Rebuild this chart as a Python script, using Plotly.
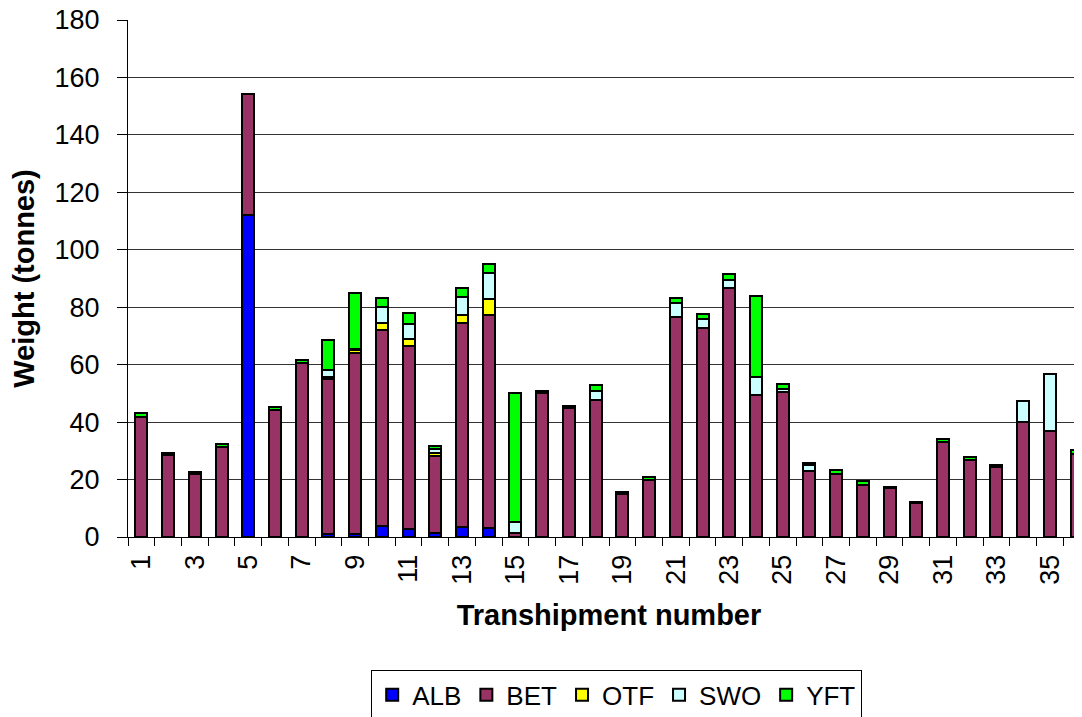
import plotly.graph_objects as go

# Transhipment number 1..36, weight in tonnes by species.
shipments = list(range(1, 37))

alb = [0, 0, 0, 0, 112.1, 0, 0, 1.2, 1.0, 3.8, 2.7, 1.5, 3.4, 3.2, 0, 0, 0, 0,
       0, 0, 0, 0, 0, 0, 0, 0, 0, 0, 0, 0, 0, 0, 0, 0, 0, 0]
bet = [41.9, 28.4, 22.0, 31.3, 42.0, 44.3, 60.5, 53.8, 63.2, 68.3, 63.8, 26.7,
       71.0, 74.1, 1.4, 50.2, 44.8, 47.7, 15.0, 19.8, 76.5, 72.7, 86.6, 49.4,
       50.4, 22.9, 21.8, 18.1, 16.9, 11.8, 33.0, 26.8, 24.3, 40.1, 36.9, 28.8]
otf = [0, 0, 0, 0, 0, 0, 0, 0.8, 0.8, 2.3, 2.3, 1.2, 2.9, 5.5, 0, 0, 0, 0,
       0, 0, 0, 0, 0, 0, 0, 0, 0, 0, 0, 0, 0, 0, 0, 0, 0, 0]
swo = [0, 0, 0, 0, 0, 0, 0, 2.5, 0.6, 5.8, 5.4, 1.2, 6.4, 9.2, 3.9, 0, 0, 3.2,
       0, 0, 4.9, 3.1, 2.9, 6.4, 1.0, 2.0, 0, 0, 0, 0, 0, 0, 0, 7.3, 19.7, 0]
yft = [1.4, 0.7, 0.5, 1.2, 0, 1.1, 1.1, 10.3, 19.2, 2.9, 3.7, 1.2, 2.9, 3.1,
       44.7, 0.6, 0.9, 2.0, 0.6, 1.1, 1.9, 1.8, 2.1, 28.2, 2.0, 0.8, 1.5, 1.4,
       0.6, 0.5, 1.0, 0.9, 0.7, 0, 0, 1.5]

tick_labels = [str(n) for n in range(1, 37, 2)]

series = [
    ("ALB", alb, "#0000FF"),
    ("BET", bet, "#993366"),
    ("OTF", otf, "#FFFF00"),
    ("SWO", swo, "#CCFFFF"),
    ("YFT", yft, "#00FF00"),
]

FONT = "Liberation Sans, Arial, sans-serif"

fig = go.Figure()
for name, vals, color in series:
    fig.add_trace(go.Bar(
        x=shipments, y=vals, name=name, width=0.45,
        marker=dict(color=color, line=dict(color="black", width=2)),
    ))

# The page body adds an 8px margin, so the figure sits 8px right/down of the window;
# the right and bottom edges run past the window, as in the original.
fig.update_layout(
    width=1082, height=717,
    barmode="stack",
    paper_bgcolor="white", plot_bgcolor="white",
    font=dict(family=FONT, size=27, color="black"),
    margin=dict(l=120, r=0, t=12, b=188, autoexpand=False),
    showlegend=True,
    legend=dict(orientation="h", x=0.508, xanchor="center", y=-0.258, yanchor="top",
                bordercolor="black", borderwidth=1, bgcolor="white",
                font=dict(family=FONT, size=26, color="black"),
                itemwidth=30, traceorder="normal"),
)

fig.update_xaxes(
    range=[0.5, 36.5], showgrid=False, zeroline=False, automargin=False,
    showline=True, linecolor="black", linewidth=1,
    tickmode="array", tickvals=list(range(1, 37, 2)), ticktext=tick_labels,
    ticks="", tickangle=-90, tickfont=dict(size=27), ticklabelstandoff=6,
    minor=dict(ticks="outside", tick0=0.5, dtick=1, ticklen=8, tickcolor="black", showgrid=False),
    title=dict(text="<b>Transhipment number</b>", font=dict(size=29), standoff=20),
)
fig.update_yaxes(
    range=[0, 180], dtick=20, showgrid=True, gridcolor="#333333", gridwidth=1,
    zeroline=False, showline=True, linecolor="black", linewidth=1, automargin=False,
    ticks="outside", ticklen=10, tickcolor="black", tickfont=dict(size=27),
    ticklabelstandoff=12, ticklabeloverflow="allow",
    title=dict(text="<b>Weight (tonnes)</b>", font=dict(size=29), standoff=13),
)

fig.write_html("out.html")
